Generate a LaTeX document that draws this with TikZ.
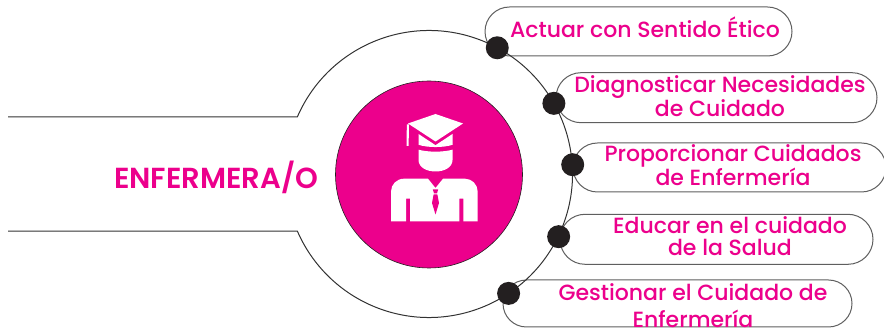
\documentclass[tikz,border=0pt]{standalone}
\usepackage{fontspec}
\setmainfont{Poppins}
\newfontfamily\pillfont{Poppins Medium}
\newfontfamily\headfont{Poppins SemiBold}
\usetikzlibrary{shapes.misc}
\definecolor{mag}{RGB}{236,0,140}
\definecolor{dotc}{RGB}{35,31,32}
\definecolor{linec}{RGB}{95,95,95}
\definecolor{arcc}{RGB}{50,50,50}
\begin{document}
\begin{tikzpicture}[x=1pt,y=-1pt,
  pill/.style={rounded rectangle, draw=linec, line width=1pt, fill=white, inner sep=0pt},
  bullet/.style={circle, fill=dotc, inner sep=0pt, minimum size=23pt},
  lbl/.style={text=mag, font=\pillfont\fontsize{22}{22}\selectfont, align=center, inner sep=0pt},
  outerline/.style={draw=arcc, line width=1pt},
  icon/.style={fill=white, draw=none}]
\useasboundingbox (0,0) rectangle (884,328);
% pills
\node[pill, minimum width=307pt, minimum height=49pt] (p1) at (638.5,31.5) {};
\node[pill, minimum width=321pt, minimum height=50pt] (p2) at (716.5,97.7) {};
\node[pill, minimum width=313pt, minimum height=49pt] (p3) at (729.5,167.5) {};
\node[pill, minimum width=313pt, minimum height=50pt] (p4) at (716.5,239.3) {};
\node[pill, minimum width=349pt, minimum height=47pt] (p5) at (677.5,303.5) {};
% outer arc and lines
\coordinate (L) at (8,0);
\begin{scope}[shift={(429,174)}]
  \coordinate (A1) at (203.5:143.5);
  \coordinate (A2) at (156.5:143.5);
  \draw[outerline] (L |- A1) -- (A1) arc[start angle=203.5, end angle=516.5, radius=143.5] -- (L |- A2);
  \node[bullet] (d1) at (298.4:143.5) {};
  \node[bullet] (d2) at (330.5:143.5) {};
  \node[bullet] (d3) at (356.3:144) {};
  \node[bullet] (d4) at (25.8:144) {};
  \node[bullet] (d5) at (56.3:143.5) {};
\end{scope}
% central circle
\node[circle, fill=mag, draw=dotc, line width=0.6pt, minimum size=187pt, inner sep=0pt] (hub) at (429,174.5) {};
% icon
\fill[icon] (408,123.5) -- (435.5,114) -- (463,123.5) -- (435.5,141.5) -- cycle;
\fill[icon] (406.8,124.5) -- (409,124.5) -- (408.6,146) -- (406.6,146) -- cycle;
\fill[icon] (418.5,134) -- (435.5,145.2) -- (452.5,134) -- (452.5,144.8) .. controls (443,147.8) and (428,147.8) .. (418.5,144.8) -- cycle;
\fill[icon] (418.5,149.7) .. controls (428,152.3) and (443,152.3) .. (452.5,149.7) -- (452.5,160) .. controls (452.5,167.5) and (444,171.5) .. (435.5,171.5) .. controls (427,171.5) and (418.5,167.5) .. (418.5,160) -- cycle;
\fill[icon] (391,221.3) -- (391,191.7) .. controls (391,184.5) and (396.5,178.7) .. (404,178.7) -- (428,178.7) -- (435.5,188) -- (443,178.7) -- (465,178.7) .. controls (472,178.7) and (477.7,184.5) .. (477.7,191.7) -- (477.7,221.3) -- (463.3,221.3) -- (463.3,198.7) -- (459.3,198.7) -- (459.3,221.3) -- (410,221.3) -- (410,198.7) -- (406,198.7) -- (406,221.3) -- cycle;
\fill[mag] (432.8,189.5) -- (438.2,189.5) -- (437,193.3) -- (434,193.3) -- cycle;
\fill[mag] (433.6,194.5) -- (437.4,194.5) -- (439,203) -- (435.5,214.5) -- (432,203) -- cycle;
% labels
\node[text=mag, font=\headfont\fontsize{29}{30}\selectfont, inner sep=0pt] (role) at (216,177.5) {ENFERMERA/O};
\node[lbl] (t1) at (645,27.5) {Actuar con Sentido Ético};
\node[lbl] (t2) at (720,96.5) {Diagnosticar Necesidades\\de Cuidado};
\node[lbl] (t3) at (733,165) {Proporcionar Cuidados\\de Enfermería};
\node[lbl] (t4) at (730,236) {Educar en el cuidado\\de la Salud};
\node[lbl, font=\pillfont\fontsize{22}{27}\selectfont] (t5) at (693,306) {Gestionar el Cuidado de\\Enfermería};
\end{tikzpicture}
\end{document}
